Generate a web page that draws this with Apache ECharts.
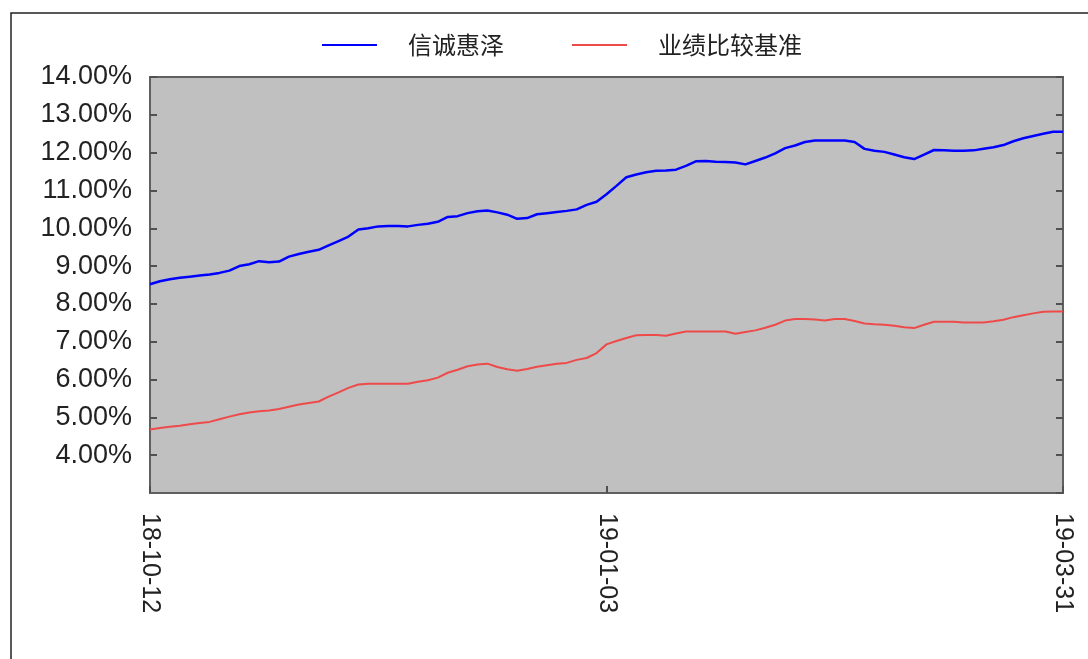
<!DOCTYPE html>
<html lang="zh-CN">
<head>
  <meta charset="UTF-8">
  <title>信诚惠泽 vs 业绩比较基准</title>
  <style>
    html, body { margin: 0; padding: 0; background: #fff; }
    #chart { width: 1088px; height: 659px; }
  </style>
  <script src="https://cdn.jsdelivr.net/npm/echarts@6/dist/echarts.min.js"></script>
</head>
<body>
<div id="chart"></div>
<script>
  // 横轴刻度标签（首、中、尾）
  const tickLabels = ['18-10-12', '19-01-03', '19-03-31'];
  const tickStep = 46;

  // 信诚惠泽 累计收益率 (%)
  const fundValues = [
    8.52, 8.60, 8.65, 8.69, 8.72, 8.75, 8.78, 8.82, 8.88, 9.00,
    9.05, 9.13, 9.10, 9.12, 9.25, 9.32, 9.38, 9.43, 9.55, 9.66,
    9.78, 9.97, 10.00, 10.05, 10.06, 10.06, 10.05, 10.09, 10.12, 10.17,
    10.30, 10.32, 10.40, 10.45, 10.47, 10.42, 10.36, 10.25, 10.27, 10.37,
    10.40, 10.43, 10.46, 10.50, 10.62, 10.70, 10.90, 11.12, 11.35, 11.42,
    11.48, 11.52, 11.53, 11.55, 11.65, 11.77, 11.78, 11.76, 11.75, 11.74,
    11.69, 11.78, 11.87, 11.98, 12.12, 12.19, 12.28, 12.32, 12.32, 12.32,
    12.32, 12.28, 12.10, 12.05, 12.02, 11.95, 11.88, 11.83, 11.95, 12.07,
    12.06, 12.05, 12.05, 12.06, 12.10, 12.14, 12.20, 12.30, 12.38, 12.44,
    12.50, 12.55, 12.55
  ];

  // 业绩比较基准 (%)
  const benchValues = [
    4.68, 4.72, 4.75, 4.78, 4.82, 4.85, 4.88, 4.95, 5.02, 5.08,
    5.13, 5.16, 5.18, 5.22, 5.28, 5.34, 5.38, 5.42, 5.55, 5.66,
    5.78, 5.87, 5.89, 5.89, 5.89, 5.89, 5.89, 5.94, 5.98, 6.05,
    6.18, 6.26, 6.35, 6.40, 6.42, 6.33, 6.27, 6.23, 6.28, 6.34,
    6.38, 6.42, 6.44, 6.52, 6.57, 6.70, 6.93, 7.02, 7.10, 7.17,
    7.18, 7.18, 7.16, 7.22, 7.27, 7.27, 7.27, 7.27, 7.27, 7.21,
    7.26, 7.30, 7.37, 7.45, 7.56, 7.60, 7.60, 7.59, 7.56, 7.60,
    7.60, 7.55, 7.48, 7.46, 7.45, 7.42, 7.38, 7.36, 7.45, 7.53,
    7.53, 7.53, 7.51, 7.51, 7.51, 7.54, 7.58, 7.65, 7.70, 7.75,
    7.79, 7.80, 7.80
  ];

  const seriesNames = ['信诚惠泽', '业绩比较基准'];

  const lastIdx = fundValues.length - 1;
  const toPairs = arr => arr.map((v, i) => [i, v]);

  const chart = echarts.init(document.getElementById('chart'));

  const axisLine = { show: true, lineStyle: { color: '#606060', width: 2 } };
  const axisTick = { show: true, inside: true, length: 7, lineStyle: { color: '#505050', width: 2 } };

  chart.setOption({
    animation: false,
    graphic: [{
      type: 'rect',
      shape: { x: 11, y: 13, width: 1200, height: 800 },
      style: { fill: 'none', stroke: '#222', lineWidth: 1.5 },
      silent: true
    }],
    legend: {
      top: 28,
      left: 317,
      icon: 'rect',
      itemWidth: 55,
      itemHeight: 2,
      itemGap: 68,
      textStyle: {
        fontFamily: '"Noto Sans CJK SC", sans-serif',
        fontSize: 24,
        color: '#222',
        padding: [0, 0, 0, 26]
      },
      data: seriesNames
    },
    grid: {
      left: 150, right: 25, top: 77, bottom: 166,
      show: true,
      backgroundColor: '#c0c0c0',
      borderColor: '#606060',
      borderWidth: 2
    },
    xAxis: {
      type: 'value',
      min: 0,
      max: lastIdx,
      interval: tickStep,
      axisLine: axisLine,
      axisTick: axisTick,
      splitLine: { show: false },
      axisLabel: {
        rotate: -90,
        margin: 20,
        color: '#222',
        fontFamily: '"Liberation Sans", Arial, sans-serif',
        fontSize: 25,
        formatter: v => tickLabels[Math.round(v / tickStep)] || ''
      }
    },
    yAxis: [{
      type: 'value',
      min: 3,
      max: 14,
      interval: 1,
      axisLine: axisLine,
      axisTick: axisTick,
      splitLine: { show: false },
      axisLabel: {
        color: '#222',
        fontFamily: '"Liberation Sans", Arial, sans-serif',
        fontSize: 27,
        margin: 18,
        showMinLabel: false,
        formatter: v => v.toFixed(2) + '%'
      }
    }, {
      type: 'value',
      position: 'right',
      min: 3,
      max: 14,
      interval: 1,
      axisLine: axisLine,
      axisTick: axisTick,
      splitLine: { show: false },
      axisLabel: { show: false }
    }],
    series: [{
      name: seriesNames[0],
      type: 'line',
      symbol: 'none',
      data: toPairs(fundValues),
      lineStyle: { color: '#0000ff', width: 2.5 },
      itemStyle: { color: '#0000ff' }
    }, {
      name: seriesNames[1],
      type: 'line',
      symbol: 'none',
      data: toPairs(benchValues),
      lineStyle: { color: '#ee4a4a', width: 2 },
      itemStyle: { color: '#ee4a4a' }
    }]
  });
</script>
</body>
</html>
